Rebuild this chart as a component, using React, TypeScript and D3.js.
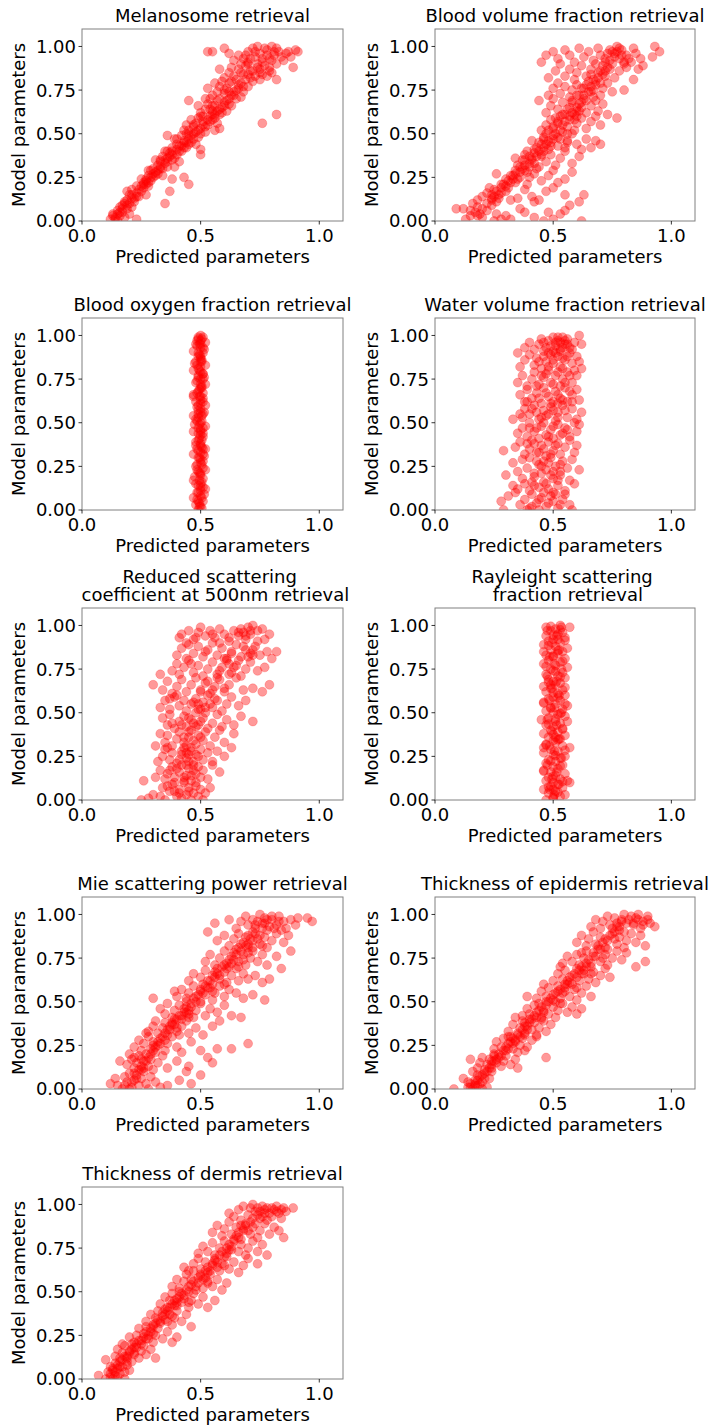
import React from "react";
import * as d3 from "d3";

type Pt = [number, number];

// [predicted, model] pairs
const melanosome: Pt[] = [
  [.12,.01],[.14,.02],[.15,.00],[.16,.03],[.13,.04],[.17,.05],[.18,.02],[.15,.06],[.19,.07],[.17,.09],[.2,.04],[.23,.01],[.16,.08],[.18,.1],[.21,.08],[.14,.01],
  [.19,.12],[.21,.13],[.2,.15],[.22,.11],[.23,.16],[.24,.14],[.21,.18],[.25,.17],[.26,.19],[.23,.2],[.19,.17],[.27,.15],[.35,.1],[.37,.17],[.28,.2],
  [.26,.22],[.27,.24],[.29,.23],[.28,.26],[.3,.25],[.31,.28],[.29,.29],[.32,.27],[.27,.21],[.33,.3],[.3,.3],[.25,.24],[.34,.26],[.45,.21],[.43,.25],[.38,.24],
  [.32,.32],[.33,.34],[.35,.33],[.34,.37],[.36,.36],[.37,.39],[.35,.4],[.38,.35],[.4,.38],[.31,.35],[.39,.31],[.36,.31],[.41,.34],[.42,.4],[.38,.4],
  [.38,.42],[.4,.44],[.41,.43],[.43,.46],[.42,.49],[.44,.42],[.45,.47],[.46,.45],[.39,.47],[.47,.5],[.48,.44],[.44,.5],[.36,.49],[.5,.41],[.49,.48],[.43,.45],
  [.45,.52],[.47,.54],[.48,.56],[.5,.53],[.51,.57],[.52,.51],[.49,.59],[.53,.55],[.55,.58],[.46,.58],[.56,.52],[.54,.6],[.44,.55],[.57,.56],[.51,.6],[.58,.53],[.5,.38],
  [.5,.62],[.52,.64],[.53,.67],[.55,.63],[.56,.66],[.57,.69],[.54,.7],[.59,.65],[.6,.68],[.58,.61],[.49,.66],[.61,.63],[.62,.7],[.52,.7],[.63,.66],[.45,.69],[.56,.61],
  [.55,.72],[.57,.74],[.58,.77],[.6,.73],[.61,.76],[.62,.79],[.64,.72],[.65,.75],[.59,.8],[.66,.78],[.68,.74],[.53,.76],[.63,.8],[.7,.77],[.67,.71],[.56,.79],[.76,.56],[.82,.61],
  [.6,.82],[.62,.85],[.64,.83],[.66,.87],[.68,.84],[.69,.89],[.65,.81],[.71,.82],[.72,.86],[.74,.88],[.7,.9],[.76,.84],[.78,.83],[.8,.85],[.82,.81],[.63,.88],[.58,.87],[.67,.9],[.75,.81],
  [.64,.92],[.66,.95],[.68,.93],[.7,.97],[.72,.99],[.73,.94],[.75,.96],[.76,.91],[.78,.98],[.79,.93],[.8,1],[.81,.95],[.83,.97],[.85,.92],[.86,.96],[.88,.94],[.9,.98],[.91,.97],[.89,.88],[.53,.97],[.55,.97],[.6,.99],[.62,.96],[.74,1],[.77,.99],[.82,.99],[.7,.91],
  [.13,.03],[.15,.04],[.17,.07],[.16,.05],[.19,.09],[.18,.11],[.2,.1],[.22,.13],[.21,.15],[.23,.14],[.24,.18],[.25,.2],[.26,.21],[.27,.23],[.28,.22],[.29,.25],[.3,.27],[.31,.26],[.32,.29],[.33,.31],[.34,.3],[.35,.35],[.36,.34],[.37,.37],[.38,.38],[.39,.36],[.4,.41],[.41,.4],[.42,.43],[.43,.42],
  [.44,.45],[.45,.44],[.46,.49],[.47,.47],[.48,.51],[.49,.52],[.5,.5],[.51,.55],[.52,.54],[.53,.58],[.54,.57],[.55,.61],[.56,.59],[.57,.63],[.58,.64],[.59,.62],[.6,.66],[.61,.69],[.62,.67],[.63,.72],[.64,.74],[.65,.7],[.66,.76],[.67,.79],[.68,.77],[.69,.81],[.7,.84],[.71,.86],[.72,.8],[.73,.83],
  [.74,.9],[.75,.87],[.76,.93],[.77,.89],[.78,.95],[.79,.88],[.8,.92],[.81,.97],[.82,.9],[.84,.94],[.87,.97],[.71,.93],[.73,.97],[.69,.95],[.67,.85],[.75,.85],[.79,.86],[.58,.7],[.54,.64],[.47,.55],[.4,.47],[.36,.4],[.33,.35],[.28,.29],[.45,.5],[.62,.74],[.6,.75],[.55,.66],[.5,.6],[.43,.52],
];

const bloodVolume: Pt[] = [
  [.09,.07],[.12,.07],[.13,.01],[.15,.03],[.17,.05],[.18,.08],[.2,.02],[.22,.06],[.24,.09],[.16,.1],[.26,.04],[.28,.01],[.3,.03],[.32,.01],[.19,.04],[.25,.0],[.36,.07],[.38,.05],[.42,.02],[.46,.0],[.5,.01],[.53,.04],[.55,.06],[.57,.09],[.61,.11],[.63,.15],[.62,.0],[.48,.05],
  [.18,.12],[.2,.14],[.22,.16],[.24,.13],[.25,.18],[.27,.15],[.28,.19],[.26,.11],[.3,.17],[.23,.19],[.35,.13],[.38,.18],[.41,.14],[.44,.12],[.47,.17],[.5,.19],[.55,.15],[.42,.11],[.32,.12],
  [.26,.27],[.29,.21],[.31,.23],[.33,.26],[.34,.22],[.36,.28],[.35,.24],[.38,.29],[.4,.25],[.42,.27],[.39,.21],[.45,.23],[.48,.26],[.52,.22],[.55,.24],[.58,.28],[.5,.29],[.43,.3],
  [.35,.32],[.37,.35],[.38,.38],[.4,.33],[.41,.36],[.42,.39],[.44,.31],[.45,.37],[.47,.34],[.49,.38],[.39,.4],[.51,.32],[.53,.36],[.55,.4],[.58,.33],[.61,.37],[.34,.36],[.46,.4],
  [.41,.46],[.43,.42],[.45,.44],[.46,.48],[.48,.41],[.49,.45],[.5,.49],[.52,.43],[.53,.47],[.55,.42],[.56,.46],[.58,.5],[.6,.44],[.62,.41],[.64,.47],[.66,.42],[.7,.44],[.68,.46],[.47,.5],
  [.45,.52],[.47,.55],[.49,.58],[.5,.53],[.52,.56],[.53,.6],[.54,.51],[.56,.54],[.57,.58],[.59,.52],[.6,.56],[.62,.59],[.64,.53],[.66,.57],[.68,.6],[.7,.55],[.77,.59],[.51,.59],
  [.47,.62],[.49,.66],[.5,.7],[.52,.64],[.54,.68],[.55,.61],[.57,.65],[.58,.69],[.6,.63],[.61,.67],[.63,.7],[.64,.62],[.66,.66],[.68,.69],[.69,.63],[.71,.67],[.73,.61],[.59,.61],[.62,.65],
  [.48,.72],[.5,.76],[.52,.79],[.53,.73],[.55,.77],[.57,.71],[.58,.75],[.6,.78],[.61,.72],[.63,.76],[.65,.8],[.66,.74],[.68,.78],[.7,.72],[.71,.76],[.73,.79],[.75,.74],[.8,.75],[.44,.69],[.67,.71],
  [.48,.82],[.51,.86],[.53,.9],[.55,.83],[.57,.87],[.59,.81],[.6,.85],[.62,.89],[.64,.83],[.66,.87],[.67,.81],[.69,.85],[.71,.89],[.72,.83],[.74,.87],[.76,.82],[.78,.86],[.8,.9],[.84,.81],[.86,.87],[.88,.89],[.45,.91],
  [.47,.95],[.5,.97],[.52,.93],[.55,.98],[.57,.95],[.59,.91],[.61,.99],[.63,.94],[.65,.97],[.67,.92],[.69,.99],[.7,.95],[.72,.91],[.74,.98],[.76,.96],[.77,1],[.78,.93],[.79,.98],[.81,.95],[.83,.91],[.85,.96],[.87,.93],[.92,.94],[.95,.97],[.93,1],[.84,.99],[.73,.96],
  [.15,.06],[.18,.03],[.2,.07],[.22,.1],[.24,.12],[.25,.14],[.27,.13],[.28,.16],[.3,.2],[.31,.19],[.32,.22],[.33,.24],[.34,.27],[.36,.25],[.37,.3],[.38,.32],[.39,.28],[.4,.31],[.41,.35],[.42,.33],[.43,.37],[.44,.4],[.45,.38],[.46,.42],[.47,.44],[.48,.46],[.49,.43],[.5,.47],[.51,.5],[.52,.48],
  [.53,.52],[.54,.55],[.55,.57],[.56,.5],[.57,.6],[.58,.62],[.59,.58],[.6,.65],[.61,.63],[.62,.68],[.63,.72],[.64,.69],[.65,.74],[.66,.77],[.67,.75],[.68,.8],[.69,.82],[.7,.79],[.71,.84],[.72,.86],[.73,.88],[.74,.92],[.75,.9],[.76,.94],[.77,.97],[.78,.99],[.79,.95],[.8,.91],[.81,.88],[.82,.93],
  [.7,.86],[.68,.9],[.66,.84],[.64,.78],[.62,.76],[.6,.72],[.58,.68],[.56,.64],[.54,.61],[.52,.57],[.5,.54],[.48,.52],[.46,.47],[.44,.45],[.42,.41],[.4,.37],[.38,.35],[.36,.31],[.34,.29],[.32,.26],[.3,.24],[.28,.21],[.26,.17],[.24,.15],[.56,.45],[.6,.6],[.72,.93],[.75,.97],
];

const bloodOxygen: Pt[] = [
  [.49,.0],[.5,.02],[.48,.03],[.51,.05],[.47,.07],[.5,.08],[.49,.1],[.52,.12],[.5,.13],[.48,.15],[.47,.17],[.51,.18],[.5,.2],[.49,.22],[.52,.23],[.48,.25],[.5,.27],[.51,.28],[.49,.3],[.47,.32],[.5,.33],[.52,.35],[.48,.37],[.5,.38],[.49,.4],[.51,.42],[.5,.43],[.47,.45],[.49,.47],[.52,.48],[.5,.5],
  [.48,.52],[.47,.54],[.51,.55],[.49,.57],[.5,.58],[.52,.6],[.48,.62],[.5,.63],[.47,.65],[.51,.67],[.49,.68],[.5,.7],[.52,.72],[.48,.73],[.5,.75],[.49,.77],[.51,.78],[.47,.8],[.5,.82],[.52,.83],[.48,.85],[.5,.87],[.49,.88],[.51,.9],[.47,.91],[.5,.93],[.48,.95],[.52,.96],[.49,.98],[.51,.99],[.5,1],
  [.505,.01],[.495,.04],[.485,.06],[.515,.09],[.5,.11],[.49,.14],[.505,.16],[.475,.19],[.495,.21],[.51,.24],[.485,.26],[.5,.29],[.515,.31],[.49,.34],[.505,.36],[.48,.39],[.495,.41],[.51,.44],[.5,.46],[.475,.49],
  [.505,.51],[.49,.53],[.515,.56],[.485,.59],[.5,.61],[.51,.64],[.47,.66],[.495,.69],[.505,.71],[.485,.74],[.515,.76],[.5,.79],[.49,.81],[.475,.84],[.505,.86],[.495,.89],[.515,.92],[.485,.94],[.5,.97],[.49,.99],
  [.495,.02],[.505,.07],[.485,.1],[.51,.13],[.495,.17],[.5,.21],[.485,.23],[.505,.26],[.495,.3],[.51,.32],[.485,.35],[.5,.37],[.505,.4],[.49,.44],[.51,.47],[.495,.49],[.485,.51],[.505,.54],[.5,.56],[.49,.6],[.51,.62],[.495,.65],
  [.485,.67],[.505,.7],[.5,.72],[.49,.76],[.51,.78],[.495,.8],[.485,.83],[.505,.85],[.5,.88],[.49,.9],[.51,.93],[.495,.95],[.485,.97],[.505,.98],[.5,.15],[.5,.45],[.5,.65],[.5,.85],[.49,.55],[.51,.35],[.49,.05],[.51,.75],[.5,.95],
];

const waterVolume: Pt[] = [
  [.28,.05],[.29,.0],[.31,.08],[.34,.1],[.36,.03],[.38,.06],[.4,.01],[.41,.09],[.43,.04],[.45,.07],[.47,.02],[.49,.08],[.5,.05],[.52,.01],[.54,.06],[.55,.09],[.57,.03],[.58,.0],[.46,.1],[.39,.0],[.53,.03],[.44,.0],
  [.3,.2],[.33,.14],[.35,.12],[.37,.18],[.38,.15],[.4,.11],[.42,.19],[.44,.13],[.46,.16],[.48,.12],[.5,.18],[.52,.14],[.53,.2],[.55,.11],[.57,.17],[.59,.15],[.41,.16],[.49,.2],
  [.29,.34],[.33,.27],[.35,.22],[.37,.29],[.39,.24],[.4,.3],[.42,.21],[.44,.26],[.46,.28],[.47,.23],[.49,.3],[.51,.25],[.53,.22],[.54,.28],[.56,.24],[.58,.29],[.61,.23],[.45,.25],
  [.34,.36],[.36,.39],[.38,.32],[.4,.35],[.41,.4],[.43,.33],[.45,.37],[.47,.31],[.48,.39],[.5,.34],[.52,.38],[.53,.32],[.55,.36],[.57,.4],[.59,.33],[.6,.37],[.39,.38],
  [.33,.52],[.35,.44],[.37,.47],[.39,.42],[.4,.5],[.42,.45],[.44,.41],[.45,.48],[.47,.43],[.49,.46],[.5,.41],[.52,.49],[.54,.44],[.55,.47],[.57,.42],[.59,.5],[.6,.45],[.61,.49],[.46,.5],
  [.37,.53],[.38,.58],[.4,.55],[.42,.6],[.44,.52],[.46,.57],[.47,.54],[.49,.59],[.51,.51],[.52,.56],[.54,.6],[.56,.53],[.58,.58],[.6,.52],[.62,.56],[.5,.57],[.43,.56],
  [.36,.66],[.38,.62],[.39,.69],[.41,.64],[.43,.67],[.45,.61],[.46,.7],[.48,.65],[.5,.62],[.51,.68],[.53,.64],[.55,.7],[.56,.62],[.58,.66],[.6,.69],[.61,.63],[.52,.61],[.44,.64],
  [.35,.73],[.37,.77],[.39,.71],[.41,.75],[.42,.79],[.44,.72],[.46,.76],[.48,.8],[.49,.73],[.51,.77],[.53,.71],[.54,.75],[.56,.79],[.58,.73],[.6,.77],[.62,.81],[.47,.78],
  [.35,.9],[.36,.82],[.38,.86],[.4,.89],[.42,.83],[.43,.87],[.45,.81],[.47,.85],[.49,.89],[.5,.84],[.52,.88],[.53,.82],[.55,.86],[.57,.9],[.58,.84],[.6,.88],[.61,.85],[.51,.9],[.54,.87],
  [.38,.93],[.4,.96],[.42,.92],[.44,.95],[.45,.98],[.47,.93],[.48,.97],[.5,.99],[.51,.94],[.52,.97],[.53,.92],[.54,.99],[.55,.95],[.56,.98],[.57,.93],[.59,.96],[.61,1],[.62,.95],[.46,.91],[.5,.91],[.53,.96],
  [.41,.02],[.48,.04],[.51,.09],[.44,.06],[.5,.1],[.42,.14],[.47,.15],[.52,.17],[.45,.21],[.5,.22],[.48,.27],[.43,.28],[.53,.26],[.44,.33],[.49,.32],[.51,.37],[.46,.35],[.42,.38],[.48,.42],[.53,.43],
  [.43,.47],[.5,.48],[.56,.46],[.45,.53],[.52,.53],[.48,.55],[.55,.57],[.41,.58],[.49,.61],[.54,.63],[.47,.67],[.52,.66],[.57,.68],[.43,.71],[.5,.72],[.55,.73],[.45,.77],[.52,.79],[.57,.77],[.48,.82],
  [.54,.81],[.44,.85],[.5,.86],[.56,.88],[.48,.9],[.53,.91],[.58,.92],[.51,.96],[.55,.97],[.49,.94],[.46,.96],[.56,.95],[.52,.99],[.54,.93],[.4,.47],[.39,.62],[.58,.62],[.36,.55],[.59,.8],[.46,.88],
];

const reducedScattering: Pt[] = [
  [.25,.0],[.26,.11],[.28,.01],[.3,.03],[.33,.02],[.34,.07],[.35,.0],[.37,.05],[.38,.09],[.4,.02],[.41,.06],[.43,.1],[.44,.03],[.45,.07],[.46,.0],[.47,.04],[.48,.08],[.49,.02],[.5,.06],[.51,.0],[.39,.1],[.42,.01],[.36,.08],[.52,.04],
  [.31,.13],[.33,.17],[.35,.12],[.36,.15],[.38,.19],[.39,.13],[.41,.16],[.42,.2],[.44,.14],[.45,.18],[.46,.11],[.48,.15],[.49,.19],[.5,.13],[.51,.17],[.53,.12],[.55,.2],[.58,.16],[.43,.11],[.47,.2],
  [.31,.31],[.32,.22],[.34,.25],[.35,.29],[.37,.23],[.38,.27],[.4,.21],[.42,.26],[.43,.3],[.44,.24],[.46,.28],[.47,.22],[.48,.26],[.5,.29],[.51,.23],[.53,.27],[.55,.22],[.57,.28],[.6,.25],[.63,.3],[.45,.26],
  [.33,.38],[.35,.33],[.36,.37],[.38,.31],[.4,.35],[.41,.39],[.43,.33],[.45,.36],[.46,.4],[.48,.32],[.49,.37],[.51,.34],[.52,.39],[.54,.31],[.56,.36],[.58,.4],[.6,.33],[.64,.38],[.44,.31],
  [.34,.47],[.36,.43],[.37,.49],[.39,.41],[.41,.45],[.43,.48],[.44,.42],[.46,.46],[.48,.5],[.49,.43],[.51,.47],[.53,.41],[.55,.44],[.57,.49],[.59,.42],[.61,.46],[.64,.43],[.67,.48],[.72,.45],[.47,.44],
  [.33,.53],[.35,.57],[.37,.52],[.39,.59],[.41,.54],[.43,.57],[.44,.51],[.46,.55],[.48,.58],[.5,.52],[.51,.56],[.53,.6],[.55,.53],[.57,.57],[.59,.51],[.61,.55],[.63,.59],[.66,.54],[.69,.57],[.49,.55],
  [.3,.66],[.34,.63],[.36,.68],[.38,.61],[.4,.65],[.42,.69],[.44,.62],[.46,.66],[.48,.7],[.5,.63],[.52,.67],[.54,.61],[.56,.65],[.58,.69],[.6,.62],[.62,.66],[.65,.7],[.68,.63],[.72,.64],[.76,.62],[.79,.66],[.33,.72],
  [.38,.74],[.4,.78],[.41,.72],[.43,.76],[.45,.8],[.47,.73],[.49,.77],[.51,.71],[.53,.75],[.55,.79],[.57,.72],[.59,.76],[.61,.8],[.63,.73],[.65,.77],[.67,.71],[.69,.75],[.71,.79],[.74,.74],[.77,.76],[.62,.78],
  [.4,.83],[.42,.87],[.44,.81],[.45,.89],[.47,.84],[.49,.88],[.51,.82],[.53,.86],[.55,.9],[.57,.83],[.59,.87],[.61,.81],[.63,.85],[.65,.89],[.67,.82],[.69,.86],[.71,.84],[.73,.88],[.75,.83],[.78,.85],[.82,.85],[.8,.81],[.72,.83],
  [.41,.93],[.42,.95],[.45,.97],[.47,.92],[.49,.96],[.5,.99],[.52,.94],[.54,.97],[.56,.93],[.58,.98],[.6,.95],[.62,.91],[.64,.97],[.66,.94],[.67,.98],[.68,.96],[.69,.92],[.7,.99],[.72,1],[.74,.97],[.76,.98],[.79,.95],[.77,.92],[.71,.95],
  [.41,.04],[.45,.05],[.48,.1],[.43,.13],[.46,.14],[.4,.18],[.44,.2],[.47,.17],[.41,.23],[.45,.22],[.49,.25],[.42,.28],[.46,.3],[.44,.27],[.47,.34],[.43,.36],[.5,.36],[.45,.39],[.48,.42],[.42,.43],
  [.5,.45],[.45,.47],[.52,.5],[.49,.52],[.54,.55],[.47,.56],[.52,.53],[.56,.58],[.5,.62],[.55,.63],[.6,.64],[.53,.68],[.57,.7],[.62,.72],[.58,.74],[.64,.76],[.6,.81],[.66,.8],[.7,.82],[.63,.84],
  [.68,.88],[.72,.86],[.74,.91],[.69,.94],[.66,.96],[.71,.97],[.62,.93],[.58,.9],[.55,.95],[.48,.93],[.44,.9],[.52,.85],[.46,.78],[.4,.6],[.37,.58],[.38,.44],[.36,.3],[.37,.17],[.39,.05],[.54,.07],
];

const rayleigh: Pt[] = [
  [.47,.0],[.5,.01],[.53,.02],[.55,.03],[.48,.04],[.51,.05],[.46,.06],[.54,.07],[.49,.08],[.52,.09],[.5,.1],[.47,.11],[.56,.11],[.53,.12],[.48,.13],[.51,.14],[.55,.15],[.49,.16],[.46,.17],[.52,.18],[.5,.19],[.54,.2],[.47,.21],[.51,.22],[.48,.23],[.53,.24],[.55,.25],[.5,.26],[.46,.27],[.52,.28],[.49,.29],[.57,.3],
  [.54,.31],[.47,.32],[.51,.33],[.5,.34],[.53,.35],[.48,.36],[.55,.37],[.46,.38],[.52,.39],[.49,.4],[.54,.41],[.5,.42],[.47,.43],[.53,.44],[.51,.45],[.45,.46],[.48,.47],[.55,.48],[.52,.49],[.5,.5],[.47,.51],[.54,.52],[.49,.53],[.56,.54],[.51,.55],[.46,.56],[.53,.57],[.48,.58],[.5,.59],[.55,.6],
  [.52,.61],[.47,.62],[.54,.63],[.49,.64],[.46,.65],[.51,.66],[.53,.67],[.5,.68],[.48,.69],[.55,.7],[.52,.71],[.47,.72],[.54,.73],[.5,.74],[.49,.75],[.56,.76],[.51,.77],[.46,.78],[.53,.79],[.48,.8],[.55,.81],[.5,.82],[.47,.83],[.52,.84],[.54,.85],[.49,.86],[.56,.87],[.51,.88],[.46,.89],[.53,.9],
  [.48,.91],[.5,.92],[.55,.93],[.47,.94],[.52,.95],[.54,.96],[.49,.97],[.51,.98],[.47,.99],[.53,1],[.57,.99],
  [.505,.03],[.485,.06],[.525,.09],[.495,.12],[.515,.16],[.475,.2],[.535,.24],[.505,.28],[.485,.31],[.525,.35],[.495,.39],[.515,.43],[.475,.46],[.535,.5],[.505,.53],[.485,.57],[.525,.6],[.495,.64],[.515,.68],[.475,.71],[.535,.75],[.505,.78],[.485,.82],[.525,.86],[.495,.9],[.515,.94],[.475,.97],[.535,.99],
  [.5,.015],[.52,.045],[.48,.075],[.54,.105],[.5,.135],[.46,.165],[.53,.195],[.49,.225],[.51,.255],[.55,.285],[.47,.315],[.52,.345],[.5,.375],[.54,.405],[.48,.435],[.51,.465],[.53,.495],[.49,.525],[.46,.555],[.52,.585],[.5,.615],
  [.55,.645],[.48,.675],[.53,.705],[.51,.735],[.47,.765],[.54,.795],[.5,.825],[.52,.855],[.48,.885],[.55,.915],[.5,.945],[.53,.975],[.49,.995],[.56,.45],[.46,.3],[.57,.1],[.55,.55],[.46,.85],[.5,.06],[.51,.36],[.49,.66],[.52,.92],
];

const miePower: Pt[] = [
  [.12,.03],[.14,.06],[.15,.02],[.17,.0],[.18,.07],[.19,.04],[.2,.09],[.21,.01],[.22,.05],[.23,.08],[.24,.02],[.25,.06],[.26,.1],[.27,.03],[.28,.0],[.29,.07],[.31,.04],[.33,.01],[.36,.02],[.41,.05],[.44,.1],[.46,.03],[.16,.16],[.2,.0],
  [.19,.14],[.2,.2],[.21,.17],[.22,.12],[.23,.15],[.24,.19],[.25,.11],[.26,.16],[.27,.2],[.28,.13],[.29,.17],[.3,.11],[.32,.15],[.34,.19],[.36,.12],[.4,.16],[.45,.13],[.5,.08],[.55,.15],[.22,.18],
  [.22,.24],[.24,.28],[.25,.22],[.26,.26],[.28,.3],[.29,.23],[.3,.27],[.31,.21],[.32,.25],[.33,.29],[.35,.22],[.36,.26],[.38,.3],[.4,.24],[.42,.21],[.46,.27],[.5,.22],[.53,.18],[.57,.23],[.63,.23],[.7,.26],[.27,.32],
  [.28,.33],[.3,.36],[.31,.39],[.32,.32],[.34,.35],[.35,.38],[.36,.31],[.37,.34],[.38,.37],[.39,.4],[.4,.33],[.42,.36],[.44,.39],[.45,.32],[.48,.35],[.51,.31],[.55,.36],[.58,.39],[.41,.31],
  [.33,.46],[.35,.43],[.36,.49],[.38,.41],[.39,.45],[.41,.48],[.42,.42],[.43,.46],[.44,.5],[.45,.43],[.46,.47],[.47,.41],[.48,.45],[.5,.49],[.52,.42],[.54,.46],[.57,.44],[.6,.48],[.63,.42],[.67,.41],[.3,.52],[.44,.44],
  [.4,.53],[.42,.57],[.44,.52],[.45,.55],[.47,.59],[.48,.53],[.5,.56],[.51,.6],[.52,.54],[.54,.58],[.55,.51],[.56,.55],[.58,.59],[.6,.53],[.62,.57],[.65,.55],[.68,.52],[.72,.54],[.77,.51],[.39,.56],
  [.45,.62],[.47,.66],[.5,.64],[.52,.68],[.53,.62],[.55,.65],[.57,.69],[.58,.63],[.6,.67],[.61,.61],[.63,.65],[.65,.69],[.66,.62],[.68,.66],[.7,.63],[.73,.65],[.76,.61],[.79,.63],[.56,.67],[.62,.7],
  [.52,.73],[.54,.77],[.56,.71],[.58,.75],[.6,.79],[.61,.72],[.63,.76],[.65,.8],[.66,.73],[.68,.77],[.69,.71],[.71,.75],[.72,.79],[.74,.73],[.76,.77],[.78,.71],[.82,.76],[.84,.69],[.88,.79],[.64,.74],[.7,.78],
  [.57,.85],[.6,.88],[.62,.82],[.64,.86],[.66,.89],[.67,.83],[.69,.87],[.7,.81],[.72,.85],[.73,.89],[.75,.83],[.77,.87],[.78,.81],[.8,.85],[.82,.89],[.85,.84],[.87,.88],[.53,.9],[.74,.86],
  [.56,.95],[.62,.97],[.65,.92],[.67,.96],[.69,.99],[.7,.94],[.72,.97],[.73,.92],[.75,1],[.76,.95],[.77,.98],[.79,.93],[.8,.97],[.82,.94],[.83,.99],[.85,.96],[.86,.92],[.88,.97],[.9,.94],[.91,.98],[.95,.98],[.97,.96],[.78,.91],[.84,.91],
  [.18,.02],[.21,.04],[.23,.06],[.22,.09],[.24,.11],[.25,.13],[.26,.12],[.27,.16],[.28,.18],[.29,.2],[.3,.22],[.31,.24],[.32,.27],[.33,.26],[.34,.3],[.35,.32],[.36,.34],[.37,.36],[.38,.38],[.39,.37],[.4,.4],[.41,.42],[.42,.4],[.43,.44],[.44,.47],
  [.45,.45],[.46,.49],[.47,.52],[.48,.5],[.49,.54],[.5,.57],[.51,.55],[.52,.59],[.53,.58],[.54,.62],[.55,.6],[.56,.64],[.57,.66],[.58,.65],[.59,.7],[.6,.71],[.61,.69],[.62,.74],[.63,.72],[.64,.78],[.65,.77],[.66,.81],[.67,.79],[.68,.84],[.69,.82],
  [.7,.88],[.71,.86],[.72,.9],[.73,.94],[.74,.96],[.75,.88],[.76,.92],[.77,.95],[.78,.97],[.8,.99],[.81,.92],[.83,.96],[.76,.82],[.72,.81],[.7,.83],[.68,.74],[.66,.7],[.6,.6],[.55,.56],[.5,.5],[.45,.41],[.4,.35],[.35,.28],[.3,.25],[.25,.17],
];

const epidermis: Pt[] = [
  [.08,.0],[.12,.06],[.14,.01],[.15,.03],[.16,.0],[.17,.05],[.18,.02],[.19,.07],[.2,.04],[.21,.09],[.22,.01],[.18,.08],[.16,.1],[.23,.06],[.2,.0],[.17,.03],[.24,.1],[.14,.04],
  [.15,.17],[.18,.12],[.19,.15],[.2,.18],[.21,.11],[.22,.14],[.23,.17],[.24,.12],[.25,.2],[.26,.15],[.27,.18],[.28,.13],[.29,.16],[.3,.19],[.32,.14],[.34,.17],[.35,.12],[.24,.16],
  [.25,.23],[.26,.27],[.28,.24],[.29,.29],[.3,.22],[.31,.26],[.32,.3],[.33,.23],[.34,.27],[.35,.21],[.36,.25],[.37,.29],[.39,.24],[.41,.28],[.43,.3],[.47,.18],[.38,.22],[.33,.26],
  [.31,.33],[.33,.37],[.35,.31],[.36,.35],[.37,.39],[.38,.32],[.39,.36],[.4,.4],[.41,.34],[.42,.38],[.43,.31],[.44,.35],[.46,.39],[.47,.33],[.49,.37],[.38,.38],[.34,.41],
  [.37,.42],[.39,.46],[.4,.43],[.42,.48],[.43,.44],[.44,.49],[.45,.41],[.46,.45],[.47,.5],[.48,.43],[.5,.47],[.51,.41],[.52,.45],[.54,.49],[.56,.44],[.58,.47],[.6,.43],[.62,.46],[.39,.53],
  [.43,.52],[.45,.56],[.47,.53],[.48,.58],[.5,.51],[.51,.55],[.52,.59],[.53,.52],[.55,.56],[.56,.6],[.57,.53],[.59,.57],[.6,.51],[.62,.55],[.64,.59],[.66,.53],[.46,.6],[.55,.58],
  [.5,.62],[.52,.66],[.54,.63],[.55,.68],[.57,.61],[.58,.65],[.6,.69],[.61,.62],[.62,.66],[.64,.7],[.65,.63],[.67,.67],[.68,.61],[.7,.65],[.72,.69],[.74,.64],[.53,.7],[.63,.68],
  [.54,.72],[.56,.76],[.58,.73],[.6,.77],[.61,.71],[.63,.75],[.64,.79],[.66,.72],[.67,.76],[.69,.8],[.7,.73],[.72,.77],[.73,.71],[.75,.75],[.77,.79],[.79,.74],[.81,.78],[.85,.7],[.89,.73],[.62,.78],[.71,.75],
  [.6,.84],[.62,.88],[.64,.82],[.65,.86],[.67,.9],[.68,.83],[.7,.87],[.72,.81],[.73,.85],[.75,.89],[.77,.83],[.78,.87],[.8,.81],[.81,.85],[.83,.89],[.85,.84],[.87,.88],[.89,.82],[.76,.86],
  [.66,.93],[.68,.97],[.7,.92],[.71,.96],[.73,.99],[.74,.94],[.76,.98],[.77,.93],[.79,.97],[.8,1],[.81,.95],[.83,.99],[.84,.94],[.85,.98],[.87,.92],[.88,.96],[.9,.99],[.91,.95],[.93,.93],[.78,.91],[.86,1],
  [.15,.01],[.17,.02],[.18,.05],[.19,.03],[.2,.08],[.21,.06],[.22,.1],[.23,.12],[.24,.14],[.25,.16],[.26,.17],[.27,.2],[.28,.19],[.29,.22],[.3,.24],[.31,.23],[.32,.27],[.33,.29],[.34,.28],[.35,.32],[.36,.3],[.37,.34],[.38,.36],[.39,.34],[.4,.38],
  [.41,.4],[.42,.42],[.43,.41],[.44,.45],[.45,.47],[.46,.44],[.47,.48],[.48,.5],[.49,.52],[.5,.54],[.51,.5],[.52,.56],[.53,.57],[.54,.55],[.55,.6],[.56,.62],[.57,.64],[.58,.6],[.59,.66],[.6,.64],[.61,.68],[.62,.7],[.63,.66],[.64,.72],[.65,.74],
  [.66,.7],[.67,.78],[.68,.76],[.69,.82],[.7,.8],[.71,.84],[.72,.86],[.73,.8],[.74,.88],[.75,.92],[.76,.9],[.77,.95],[.78,.93],[.79,.96],[.8,.9],[.82,.97],[.84,.95],[.86,.97],[.88,.94],[.9,.97],[.66,.66],[.6,.58],[.53,.49],[.45,.4],[.38,.31],[.31,.3],[.25,.19],
];

const dermis: Pt[] = [
  [.07,.02],[.1,.11],[.1,.0],[.11,.04],[.12,.07],[.12,.01],[.13,.05],[.14,.09],[.14,.02],[.15,.06],[.16,.03],[.16,.1],[.17,.07],[.18,.0],[.18,.04],[.19,.08],[.2,.05],[.21,.1],[.13,.0],[.15,.01],
  [.14,.13],[.15,.17],[.16,.12],[.17,.15],[.18,.19],[.19,.13],[.2,.16],[.21,.2],[.22,.14],[.23,.18],[.24,.12],[.25,.16],[.26,.19],[.27,.14],[.29,.17],[.31,.12],[.19,.1],[.17,.2],
  [.2,.24],[.22,.21],[.23,.25],[.24,.29],[.25,.22],[.26,.26],[.27,.3],[.28,.23],[.29,.27],[.3,.21],[.31,.25],[.32,.29],[.34,.23],[.36,.27],[.38,.21],[.4,.24],[.27,.23],
  [.27,.33],[.29,.37],[.3,.31],[.31,.35],[.32,.39],[.33,.32],[.34,.36],[.35,.4],[.36,.33],[.37,.37],[.38,.31],[.39,.35],[.4,.39],[.42,.33],[.44,.37],[.46,.3],[.35,.34],
  [.33,.43],[.35,.47],[.36,.41],[.37,.45],[.38,.49],[.39,.42],[.4,.46],[.41,.5],[.42,.44],[.43,.48],[.45,.41],[.46,.45],[.47,.49],[.49,.43],[.51,.47],[.53,.41],[.56,.45],[.4,.44],
  [.38,.53],[.4,.57],[.41,.52],[.43,.56],[.44,.6],[.45,.53],[.46,.57],[.48,.51],[.49,.55],[.5,.59],[.51,.52],[.53,.56],[.54,.6],[.55,.53],[.57,.57],[.59,.51],[.61,.55],[.47,.62],[.52,.58],
  [.43,.64],[.45,.62],[.47,.66],[.49,.69],[.5,.63],[.52,.67],[.53,.61],[.55,.65],[.56,.69],[.58,.62],[.59,.66],[.61,.7],[.62,.63],[.64,.67],[.66,.61],[.68,.65],[.7,.69],[.74,.66],[.57,.64],
  [.49,.72],[.51,.76],[.53,.73],[.55,.78],[.56,.71],[.58,.75],[.6,.79],[.61,.72],[.63,.76],[.64,.8],[.66,.73],[.67,.77],[.69,.71],[.7,.75],[.72,.79],[.74,.73],[.76,.77],[.78,.71],[.62,.74],
  [.55,.84],[.57,.88],[.59,.82],[.6,.86],[.62,.9],[.63,.83],[.65,.87],[.66,.81],[.68,.85],[.69,.89],[.71,.83],[.72,.87],[.74,.81],[.75,.85],[.77,.89],[.79,.83],[.81,.87],[.83,.85],[.85,.81],[.67,.88],
  [.62,.95],[.64,.93],[.66,.97],[.67,.91],[.68,.99],[.7,.94],[.71,.98],[.72,1],[.73,.96],[.75,.92],[.76,.99],[.77,.95],[.78,.98],[.8,.93],[.81,.97],[.82,.99],[.83,.95],[.84,.92],[.85,.98],[.86,.96],[.89,.98],[.74,.98],
  [.12,.03],[.13,.06],[.14,.04],[.15,.08],[.16,.07],[.17,.11],[.18,.13],[.19,.12],[.2,.15],[.21,.17],[.22,.18],[.23,.2],[.24,.22],[.25,.2],[.26,.24],[.27,.27],[.28,.25],[.29,.29],[.3,.3],[.31,.32],[.32,.34],[.33,.33],[.34,.38],[.35,.37],[.36,.39],
  [.37,.41],[.38,.43],[.39,.45],[.4,.42],[.41,.47],[.42,.49],[.43,.46],[.44,.51],[.45,.5],[.46,.54],[.47,.56],[.48,.53],[.49,.58],[.5,.6],[.51,.57],[.52,.62],[.53,.64],[.54,.62],[.55,.66],[.56,.68],[.57,.67],[.58,.71],[.59,.73],[.6,.7],[.61,.75],
  [.62,.77],[.63,.74],[.64,.79],[.65,.82],[.66,.84],[.67,.8],[.68,.86],[.69,.88],[.7,.85],[.71,.9],[.72,.92],[.73,.89],[.74,.94],[.75,.96],[.76,.93],[.77,.97],[.78,.91],[.79,.95],[.8,.98],[.82,.96],[.84,.97],[.6,.65],[.53,.55],[.45,.44],[.38,.36],[.3,.26],[.22,.15],
];

const titles = [
  "Melanosome retrieval",
  "Blood volume fraction retrieval",
  "Blood oxygen fraction retrieval",
  "Water volume fraction retrieval",
  "Reduced scattering \n coefficient at 500nm retrieval",
  "Rayleight scattering \n fraction retrieval",
  "Mie scattering power retrieval",
  "Thickness of epidermis retrieval",
  "Thickness of dermis retrieval",
];
const series = [melanosome, bloodVolume, bloodOxygen, waterVolume, reducedScattering, rayleigh, miePower, epidermis, dermis];

const xTicks = [0, 0.5, 1.0];
const yTicks = [0, 0.25, 0.5, 0.75, 1.0];

// layout
const colLeft = [82, 435];
const colWidth = [261, 260];
const rowTop = [29, 318, 608, 897, 1187];
const plotH = 192;
const font = "DejaVu Sans, sans-serif";
const fs = 18;

function Panel({ idx }: { idx: number }) {
  const col = idx % 2;
  const row = Math.floor(idx / 2);
  const left = colLeft[col];
  const top = rowTop[row];
  const w = colWidth[col];
  const x = d3.scaleLinear().domain([0, 1.1]).range([0, w]);
  const y = d3.scaleLinear().domain([0, 1.1]).range([plotH, 0]);
  const lines = titles[idx].split("\n");
  const clipId = `clip${idx}`;
  return (
    <g transform={`translate(${left},${top})`}>
      <defs>
        <clipPath id={clipId}>
          <rect x={0} y={0} width={w} height={plotH} />
        </clipPath>
      </defs>
      <g clipPath={`url(#${clipId})`}>
        {series[idx].map((d, i) => (
          <circle key={i} cx={x(d[0])} cy={y(d[1])} r={4.5}
            fill="red" fillOpacity={0.4} stroke="red" strokeOpacity={0.25} strokeWidth={0.8} />
        ))}
      </g>
      <rect x={0} y={0} width={w} height={plotH} fill="none" stroke="#808080" strokeWidth={1} />
      {xTicks.map(t => (
        <g key={"x" + t} transform={`translate(${x(t)},${plotH})`}>
          <line y1={0} y2={3.5} stroke="#000" strokeWidth={0.8} />
          <text y={20.5} textAnchor="middle" fontSize={fs} fontFamily={font}>{d3.format(".1f")(t)}</text>
        </g>
      ))}
      {yTicks.map(t => (
        <g key={"y" + t} transform={`translate(0,${y(t)})`}>
          <line x1={0} x2={-3.5} stroke="#000" strokeWidth={0.8} />
          <text x={-6} dy="0.36em" textAnchor="end" fontSize={fs} fontFamily={font}>{d3.format(".2f")(t)}</text>
        </g>
      ))}
      <text x={w / 2} y={plotH + 42} textAnchor="middle" fontSize={fs} fontFamily={font}>Predicted parameters</text>
      <text transform={`translate(-57,${plotH / 2}) rotate(-90)`} textAnchor="middle" fontSize={fs} fontFamily={font}>Model parameters</text>
      {lines.map((l, i) => (
        <text key={i} x={w / 2} y={-7 - (lines.length - 1 - i) * 18.5} textAnchor="middle"
          fontSize={fs} fontFamily={font} style={{ whiteSpace: "pre" }}>{l}</text>
      ))}
    </g>
  );
}

export default function App() {
  return (
    <svg width={710} height={1428} style={{ position: "absolute", left: 0, top: 0, background: "#fff" }}>
      <rect width={710} height={1428} fill="#fff" />
      {series.map((_, i) => <Panel key={i} idx={i} />)}
    </svg>
  );
}
